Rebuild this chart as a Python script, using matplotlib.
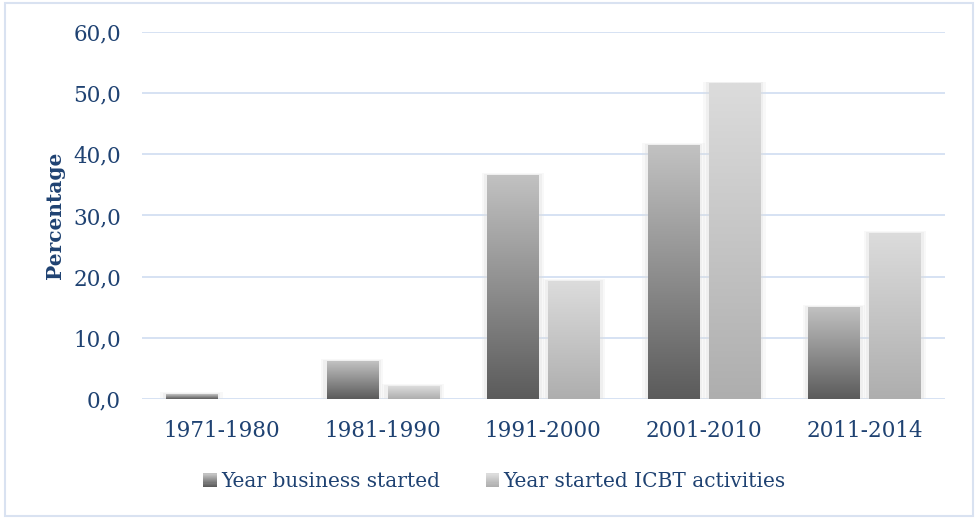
import numpy as np
import matplotlib
matplotlib.use('Agg')
import matplotlib.pyplot as plt
from matplotlib.patches import Rectangle
from matplotlib.legend_handler import HandlerBase
from matplotlib.colors import LinearSegmentedColormap

# data
periods = ['1971-1980', '1981-1990', '1991-2000', '2001-2010', '2011-2014']
business_started = [0.8, 6.2, 36.7, 41.5, 15.1]
icbt_started = [0.0, 2.1, 19.3, 51.6, 27.2]
series_names = ['Year business started', 'Year started ICBT activities']

text_col = '#1F4272'
grid_col = '#D3DFF2'

# gradients bottom -> top
cmap_dark = LinearSegmentedColormap.from_list('dark', ['#5B5B5B', '#C2C2C2'])
cmap_light = LinearSegmentedColormap.from_list('light', ['#AEAEAE', '#DCDCDC'])

plt.rcParams['font.family'] = ['DejaVu Serif']

fig = plt.figure(figsize=(9.78, 5.18), dpi=100)
ax = fig.add_axes([0.145, 0.23, 0.821, 0.708])

x = np.arange(len(periods))
width = 0.318
offset = 0.19


def gradient_bars(xpos, values, cmap):
    bars = ax.bar(xpos, values, width, color='none', edgecolor='none', zorder=3)
    grad = np.linspace(0, 1, 256).reshape(-1, 1)
    for b in bars:
        x0, y0 = b.get_x(), b.get_y()
        w, h = b.get_width(), b.get_height()
        if h <= 0:
            continue
        # soft glow around the bar
        for k, a in [(0.035, 0.2), (0.02, 0.3)]:
            ax.add_patch(Rectangle((x0 - k, y0), w + 2 * k, h + k * 8,
                                   facecolor='#DDDDDD', edgecolor='none',
                                   alpha=a, zorder=2))
        im = ax.imshow(grad, cmap=cmap, origin='lower', aspect='auto',
                       extent=(x0, x0 + w, y0, y0 + h), zorder=3)
        im.set_clip_path(b)
    return bars


gradient_bars(x - offset, business_started, cmap_dark)
gradient_bars(x + offset, icbt_started, cmap_light)

ax.set_xlim(-0.5, len(periods) - 0.5)
ax.set_ylim(0, 60)
ax.set_yticks(np.arange(0, 61, 10))
ax.set_yticklabels([f'{v:.1f}'.replace('.', ',') for v in np.arange(0, 61, 10)])
ax.set_xticks(x)
ax.set_xticklabels(periods)
ax.yaxis.grid(True, color=grid_col, linewidth=1.3, zorder=0)
ax.set_axisbelow(True)
for s in ax.spines.values():
    s.set_visible(False)
ax.tick_params(length=0, labelsize=15.5, labelcolor=text_col)
ax.tick_params(axis='x', pad=15)
ax.tick_params(axis='y', pad=15)
ax.set_ylabel('Percentage', fontsize=14.5, fontweight='bold', color=text_col, labelpad=6)


class GradientHandler(HandlerBase):
    def __init__(self, cmap):
        super().__init__()
        self.cmap = cmap

    def create_artists(self, legend, orig_handle, xdescent, ydescent,
                       width, height, fontsize, trans):
        size = height * 0.95
        x0 = (width - size) / 2 - xdescent
        y0 = (height - size) / 2 - ydescent
        n = 12
        arts = []
        for i in range(n):
            arts.append(Rectangle((x0, y0 + size * i / n), size, size / n + 0.2,
                                  facecolor=self.cmap(i / (n - 1)),
                                  edgecolor='none', transform=trans))
        return arts


h1 = Rectangle((0, 0), 1, 1)
h2 = Rectangle((0, 0), 1, 1)
fig.legend([h1, h2], series_names, loc='center', bbox_to_anchor=(0.505, 0.07),
           ncol=2, frameon=False, fontsize=14.5, labelcolor=text_col,
           handlelength=0.8, handletextpad=0.15, columnspacing=2.2,
           handler_map={h1: GradientHandler(cmap_dark), h2: GradientHandler(cmap_light)})

# outer border
fig.add_artist(Rectangle((0.005, 0.004), 0.99, 0.99, transform=fig.transFigure,
                         fill=False, edgecolor='#D9E2F1', linewidth=1.5))

fig.savefig('out.png', dpi=100)
